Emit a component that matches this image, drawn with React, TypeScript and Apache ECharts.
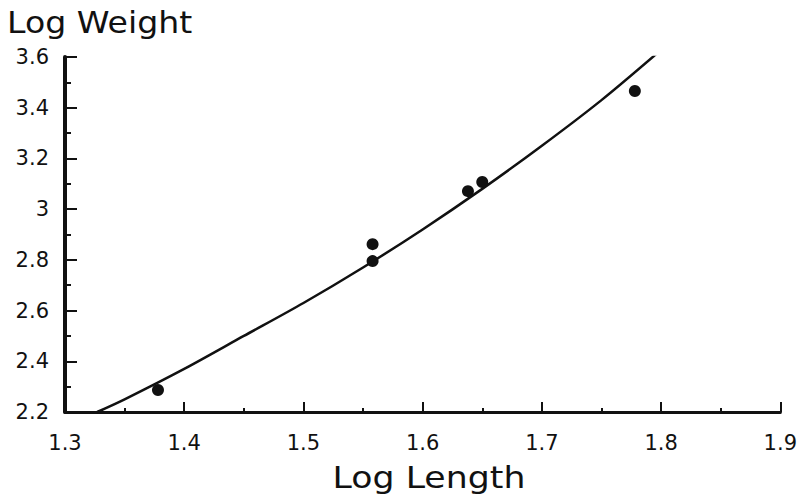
import React, { useEffect, useRef } from "react";
import * as echarts from "echarts";

const xTicks = [1.3, 1.4, 1.5, 1.6, 1.7, 1.8, 1.9];
const yTicks = [2.2, 2.4, 2.6, 2.8, 3.0, 3.2, 3.4, 3.6];

// observed points (log length, log weight)
const pointLength = [1.378, 1.558, 1.558, 1.638, 1.65, 1.778];
const pointWeight = [2.287, 2.862, 2.795, 3.071, 3.107, 3.466];

// fitted curve
const curveLength = [1.327, 1.35, 1.4, 1.45, 1.5, 1.55, 1.6, 1.65, 1.7, 1.75, 1.798];
const curveWeight = [2.2, 2.25, 2.37, 2.5, 2.63, 2.77, 2.92, 3.08, 3.25, 3.43, 3.62];

const yTitle = "Log Weight";
const xTitle = "Log Length";

export default function App() {
  const ref = useRef<HTMLDivElement>(null);
  useEffect(() => {
    document.body.style.margin = "0";
    if (!ref.current) return;
    const chart = echarts.init(ref.current, null, { renderer: "svg" });
    const font = "DejaVu Sans";
    chart.setOption({
      animation: false,
      backgroundColor: "#fff",
      textStyle: { fontFamily: font },
      grid: { left: 65, right: 14, top: 57, bottom: 83 },
      graphic: [
        {
          type: "text",
          x: 7,
          y: 22,
          scaleX: 1.07,
          style: {
            text: yTitle,
            font: `31px "${font}"`,
            fill: "#111",
            textAlign: "left",
            textVerticalAlign: "middle",
          },
        },
        {
          type: "text",
          x: 429,
          y: 477,
          scaleX: 1.12,
          style: {
            text: xTitle,
            font: `31px "${font}"`,
            fill: "#111",
            textAlign: "center",
            textVerticalAlign: "middle",
          },
        },
      ],
      xAxis: {
        type: "value",
        min: xTicks[0],
        max: xTicks[xTicks.length - 1],
        interval: 0.1,
        splitLine: { show: false },
        axisLine: { show: true, lineStyle: { color: "#111", width: 3 } },
        axisTick: { show: true, inside: true, length: 10, lineStyle: { color: "#111", width: 2 } },
        minorTick: { show: true, splitNumber: 2, length: 4, lineStyle: { color: "#111", width: 2 } },
        axisLabel: {
          fontSize: 21,
          color: "#111",
          margin: 20,
          formatter: (v: number) => String(Math.round(v * 10) / 10),
        },
      },
      yAxis: {
        type: "value",
        min: yTicks[0],
        max: yTicks[yTicks.length - 1],
        interval: 0.2,
        splitLine: { show: false },
        axisLine: { show: true, lineStyle: { color: "#111", width: 4 } },
        axisTick: { show: true, inside: true, length: 12, lineStyle: { color: "#111", width: 2 } },
        minorTick: { show: true, splitNumber: 2, length: 6, lineStyle: { color: "#111", width: 2 } },
        axisLabel: {
          fontSize: 21,
          color: "#111",
          margin: 16,
          formatter: (v: number) => String(Math.round(v * 10) / 10),
        },
      },
      series: [
        {
          type: "line",
          data: curveLength.map((x, i) => [x, curveWeight[i]]),
          smooth: 0.3,
          showSymbol: false,
          lineStyle: { color: "#111", width: 2.5 },
          z: 2,
        },
        {
          type: "scatter",
          data: pointLength.map((x, i) => [x, pointWeight[i]]),
          symbol: "circle",
          symbolSize: 12,
          itemStyle: { color: "#111", opacity: 1 },
          z: 3,
        },
      ],
    });
    return () => chart.dispose();
  }, []);
  return <div ref={ref} style={{ width: 800, height: 495 }} />;
}
